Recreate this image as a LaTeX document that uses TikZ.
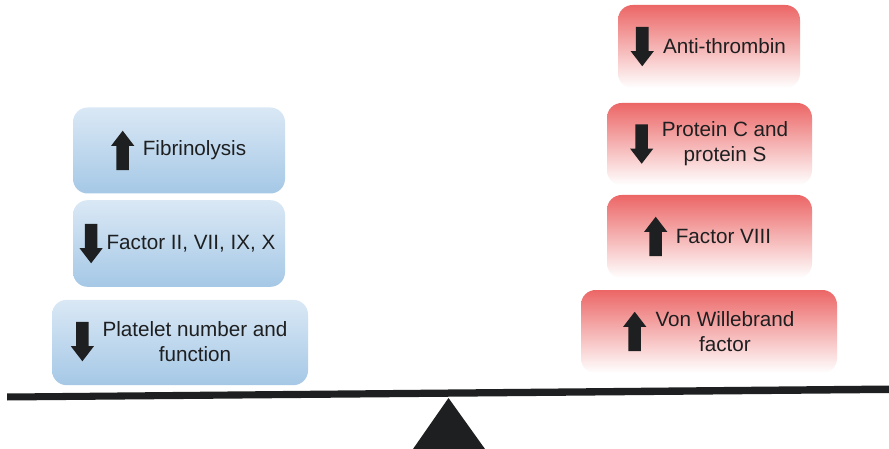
\documentclass[tikz,border=0pt]{standalone}
\usepackage{fontspec}
\setmainfont{Liberation Sans}
\usetikzlibrary{positioning,shapes.arrows}
\definecolor{bt}{HTML}{DAE8F5}
\definecolor{bb}{HTML}{A5C8E6}
\definecolor{rt}{HTML}{EC6666}
\definecolor{rb}{HTML}{FFFFFF}
\definecolor{ink}{HTML}{1E1F20}

\begin{document}
\begin{tikzpicture}[x=0.75pt,y=-0.75pt,font=\fontsize{15.5}{18.8}\selectfont,
  bx/.style={rounded corners=11pt,inner sep=0pt},
  lo/.style={bx,top color=bt,bottom color=bb},
  hi/.style={bx,top color=rt,bottom color=rb},
  lbl/.style={align=center,inner sep=0pt,text=ink},
  blk/.style={single arrow,fill=ink,inner sep=4.5pt,minimum height=29.5pt,
    single arrow head extend=4pt,single arrow head indent=0pt,single arrow tip angle=75},
  upar/.style={blk,shape border rotate=90,yshift=-3pt},
  dnar/.style={blk,shape border rotate=270,yshift=3pt}]
\fill[white] (0,0) rectangle (889,449);
\useasboundingbox (0,0) rectangle (889,449);
% left pan
\node[lo,minimum width=159pt,minimum height=64.5pt] (fib) at (179,150.5) {};
\node[lbl] (tfib) at (194.5,150.5) {Fibrinolysis};
\node[upar,left=10pt of tfib] (afib) {};
\node[lo,minimum width=159pt,minimum height=65pt] (fac) at (179,243.5) {};
\node[lbl] (tfac) at (191,243.5) {Factor II, VII, IX, X};
\node[dnar,left=6.5pt of tfac] (afac) {};
\node[lo,minimum width=192pt,minimum height=64pt] (plt) at (180,342.5) {};
\node[lbl] (tplt) at (195,341.5) {Platelet number and\\function};
\node[dnar,left=10pt of tplt] (aplt) {};
% right pan
\node[hi,minimum width=136.5pt,minimum height=62.25pt] (at) at (709,46.5) {};
\node[lbl] (tat) at (724.5,46.5) {Anti-thrombin};
\node[dnar,left=10.5pt of tat] (aat) {};
\node[hi,minimum width=153.75pt,minimum height=61.5pt] (pcs) at (709.5,144) {};
\node[lbl] (tpcs) at (725,144) {Protein C and\\protein S};
\node[dnar,left=10pt of tpcs] (apcs) {};
\node[hi,minimum width=153.75pt,minimum height=62.25pt] (f8) at (709.5,236.5) {};
\node[lbl] (tf8) at (723.5,236.5) {Factor VIII};
\node[upar,left=10pt of tf8] (af8) {};
\node[hi,minimum width=192pt,minimum height=62.25pt] (vwf) at (709,331.5) {};
\node[lbl] (tvwf) at (725,331.5) {Von Willebrand\\factor};
\node[upar,left=10.5pt of tvwf] (avwf) {};
% beam and fulcrum
\fill[ink] (7,393.5) -- (889,385.5) -- (889,393) -- (7,400.5) -- cycle;
\fill[ink] (448.5,398) -- (485,449) -- (413,449) -- cycle;
\end{tikzpicture}
\end{document}
